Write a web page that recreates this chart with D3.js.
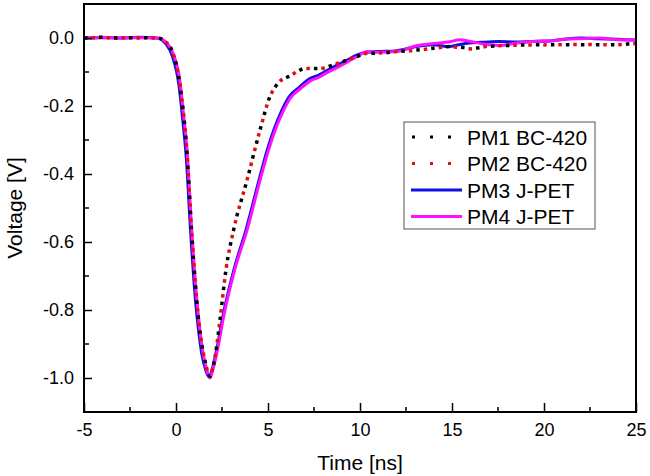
<!DOCTYPE html>
<html>
<head>
<meta charset="utf-8">
<script src="https://cdn.jsdelivr.net/npm/d3@7"></script>
<style>
  html, body { margin: 0; padding: 0; background: #fff; }
  svg { display: block; font-family: Arial, "Liberation Sans", sans-serif; }
</style>
</head>
<body>
<svg id="chart" width="650" height="476"></svg>
<script>
// ---- data ----
const xTicks = [-5, 0, 5, 10, 15, 20, 25];
const yTicks = [0.0, -0.2, -0.4, -0.6, -0.8, -1.0];
const seriesNames = ["PM1 BC-420", "PM2 BC-420", "PM3 J-PET", "PM4 J-PET"];

const timeBC = [-5, -4, -3, -2, -1, -0.6, -0.16, 0.22, 0.6, 0.85, 1.25, 1.58, 1.85, 2.0, 2.2, 2.39, 2.72, 3.15, 3.86, 4.57, 5.1, 5.55, 6.3, 7.0, 7.8, 8.5, 9.8, 10.4, 11, 12, 13.1, 14, 15, 16.1, 17, 18, 20.3, 22, 23.75, 25];
const pm1 = [0, 0.002, 0, 0.001, 0, -0.01, -0.045, -0.14, -0.34, -0.57, -0.84, -0.95, -0.995, -0.97, -0.91, -0.83, -0.68, -0.56, -0.418, -0.27, -0.173, -0.133, -0.109, -0.09, -0.09, -0.08, -0.055, -0.045, -0.045, -0.04, -0.035, -0.03, -0.025, -0.03, -0.025, -0.022, -0.02, -0.02, -0.02, -0.015];
const pm2 = [0, 0.001, 0.001, 0, 0, -0.01, -0.045, -0.14, -0.34, -0.57, -0.84, -0.95, -0.995, -0.97, -0.91, -0.83, -0.68, -0.56, -0.418, -0.27, -0.173, -0.133, -0.108, -0.09, -0.09, -0.08, -0.055, -0.045, -0.044, -0.04, -0.036, -0.03, -0.026, -0.032, -0.024, -0.022, -0.02, -0.019, -0.02, -0.016];

const timeJ = [-5, -4, -3, -2, -1, -0.5, -0.16, 0.22, 0.38, 0.6, 0.85, 1.1, 1.25, 1.45, 1.67, 1.85, 2.0, 2.3, 2.55, 3.2, 3.86, 4.57, 5.0, 5.38, 5.8, 6.2, 6.74, 7.3, 7.83, 8.2, 8.8, 9.46, 9.8, 10.4, 11, 12, 13.1, 14, 14.9, 15.4, 16, 17, 17.6, 18.5, 19.4, 20.5, 21.25, 22, 23, 24, 25];
const pm3 = [0, 0.001, 0, 0.002, 0, -0.018, -0.052, -0.145, -0.225, -0.35, -0.58, -0.77, -0.85, -0.93, -0.978, -0.998, -0.976, -0.905, -0.83, -0.68, -0.562, -0.415, -0.33, -0.268, -0.212, -0.172, -0.145, -0.12, -0.108, -0.097, -0.08, -0.062, -0.052, -0.042, -0.04, -0.038, -0.025, -0.02, -0.025, -0.02, -0.015, -0.012, -0.01, -0.012, -0.01, -0.008, -0.003, 0, -0.002, -0.004, -0.006];
const pm4 = [0, 0.002, 0, 0.001, 0, -0.015, -0.045, -0.13, -0.21, -0.33, -0.56, -0.75, -0.835, -0.92, -0.976, -1.0, -0.976, -0.905, -0.83, -0.68, -0.565, -0.418, -0.335, -0.272, -0.218, -0.178, -0.15, -0.126, -0.114, -0.102, -0.086, -0.066, -0.056, -0.04, -0.042, -0.04, -0.022, -0.016, -0.011, -0.005, -0.01, -0.02, -0.022, -0.015, -0.01, -0.008, -0.003, -0.002, 0, -0.005, -0.006];

// ---- layout ----
const svg = d3.select("#chart");
const L = 84, R = 636, T = 4, B = 412;
const x = d3.scaleLinear().domain([-5, 25]).range([L, R]);
const y = d3.scaleLinear().domain([-1.1, 0.1]).range([B, T]);

const line = (ts) => d3.line()
  .x((d, i) => x(ts[i]))
  .y(d => y(d))
  .curve(d3.curveMonotoneX);

const plot = svg.append("g");
plot.append("defs").append("clipPath").attr("id", "clip")
  .append("rect").attr("x", L).attr("y", T).attr("width", R - L).attr("height", B - T);
const g = plot.append("g").attr("clip-path", "url(#clip)");

g.append("path").datum(pm3).attr("d", line(timeJ))
  .attr("fill", "none").attr("stroke", "#1010e0").attr("stroke-width", 3).attr("transform", "translate(-0.8,0)");
g.append("path").datum(pm4).attr("d", line(timeJ))
  .attr("fill", "none").attr("stroke", "#ff10ff").attr("stroke-width", 3);
g.append("path").datum(pm1).attr("d", line(timeBC))
  .attr("fill", "none").attr("stroke", "#000").attr("stroke-width", 3.5)
  .attr("stroke-dasharray", "3.5,11.5");
g.append("path").datum(pm2).attr("d", line(timeBC))
  .attr("fill", "none").attr("stroke", "#e01010").attr("stroke-width", 3.5)
  .attr("stroke-dasharray", "3.5,11.5").attr("stroke-dashoffset", 7.5);

// ---- axes ----
const xAxis = d3.axisBottom(x).tickValues(xTicks).tickSize(-9).tickPadding(11).tickFormat(d3.format("d"));
const gx = svg.append("g").attr("transform", `translate(0,${B})`).call(xAxis);
const xMinor = d3.range(-2.5, 25, 5);
gx.selectAll(".minor").data(xMinor).enter().append("line")
  .attr("x1", d => x(d)).attr("x2", d => x(d)).attr("y1", 0).attr("y2", -5)
  .attr("stroke", "#000").attr("stroke-width", 1.5);

const yAxis = d3.axisLeft(y).tickValues(yTicks).tickSize(-8).tickPadding(10).tickFormat(d3.format(".1f"));
const gy = svg.append("g").attr("transform", `translate(${L},0)`).call(yAxis);
const yMinor = [0.1, -0.1, -0.3, -0.5, -0.7, -0.9, -1.1];
gy.selectAll(".minor").data(yMinor).enter().append("line")
  .attr("x1", 0).attr("x2", 5).attr("y1", d => y(d)).attr("y2", d => y(d))
  .attr("stroke", "#000").attr("stroke-width", 1.5);

[gx, gy].forEach(a => {
  a.select(".domain").remove();
  a.selectAll(".tick line").attr("stroke", "#000").attr("stroke-width", 1.5);
  a.selectAll(".tick text").attr("fill", "#000").style("font-size", "18px")
    .style("font-family", "Arial, 'Liberation Sans', sans-serif");
});
gx.selectAll(".tick text").text(d => d < 0 ? "-" + Math.abs(d) : d);
gy.selectAll(".tick text").text(d => (d < 0 ? "-" : "") + Math.abs(d).toFixed(1));

// frame
svg.append("rect").attr("x", L).attr("y", T).attr("width", R - L).attr("height", B - T)
  .attr("fill", "none").attr("stroke", "#000").attr("stroke-width", 2);

// axis titles
svg.append("text").attr("x", (L + R) / 2).attr("y", 470).attr("text-anchor", "middle")
  .style("font-size", "21px").text("Time [ns]");
svg.append("text").attr("transform", `translate(22,${(T + B) / 2}) rotate(-90)`)
  .attr("text-anchor", "middle").style("font-size", "21px").text("Voltage [V]");

// ---- legend ----
const leg = svg.append("g");
leg.append("rect").attr("x", 404).attr("y", 122).attr("width", 191).attr("height", 107)
  .attr("fill", "#fff").attr("stroke", "#555").attr("stroke-width", 1);
const legStyles = [
  { c: "#000", dash: "3,15", w: 3 },
  { c: "#e01010", dash: "3,15", w: 3 },
  { c: "#1010e0", dash: null, w: 3 },
  { c: "#ff10ff", dash: null, w: 3 }
];
const rowY = [137, 163.5, 190, 216.5];
seriesNames.forEach((name, i) => {
  const s = legStyles[i];
  const ln = leg.append("line").attr("x1", s.dash ? 412 : 411).attr("x2", 462)
    .attr("y1", rowY[i]).attr("y2", rowY[i])
    .attr("stroke", s.c).attr("stroke-width", s.w);
  if (s.dash) ln.attr("stroke-dasharray", s.dash);
  leg.append("text").attr("x", 467).attr("y", rowY[i]).attr("dy", "0.36em")
    .style("font-size", "21px").text(name);
});
</script>
</body>
</html>
